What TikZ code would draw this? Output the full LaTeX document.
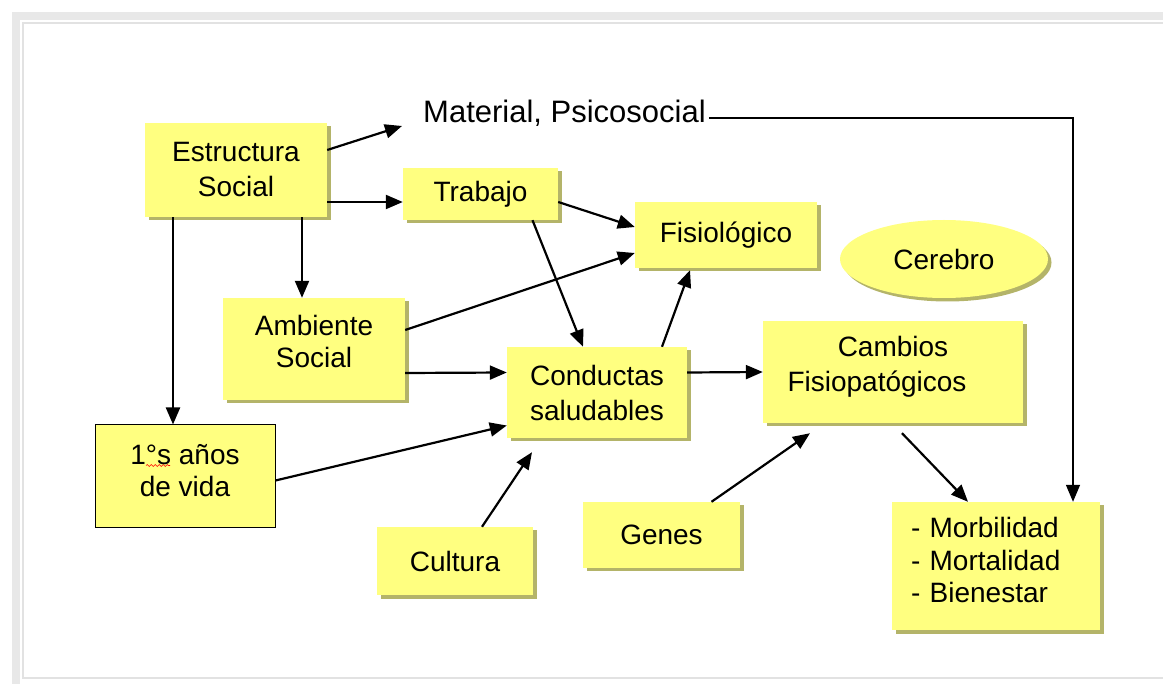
\documentclass[tikz,border=0pt]{standalone}
\usepackage{fontspec}
\setmainfont{Liberation Sans}
\usetikzlibrary{arrows.meta,shadows,calc,shapes.geometric,decorations.pathmorphing}
\definecolor{boxfill}{RGB}{255,255,128}
\definecolor{shadowc}{RGB}{180,180,105}
\definecolor{frameg}{RGB}{232,232,232}
\definecolor{framel}{RGB}{226,226,226}
\begin{document}
\begin{tikzpicture}[x=1pt,y=-1pt,
  yshadow/.style={drop shadow={shadow xshift=3.5pt, shadow yshift=-3.5pt, fill=shadowc, opacity=1}},
  ybox/.style={rectangle, fill=boxfill, inner sep=0pt, align=center,
    font=\fontsize{28}{35}\selectfont, yshadow},
  arr/.style={line width=2.2pt, -{Triangle[length=17pt,width=14pt]}},
  thinarr/.style={line width=1.4pt, -{Triangle[length=17pt,width=14pt]}}]
\useasboundingbox (0,0) rectangle (1163,684);
\fill[white] (0,0) rectangle (1163,684);
% frame
\fill[frameg] (12,12) rectangle (1163,20);
\fill[frameg] (12,12) rectangle (20,684);
\draw[framel, line width=1.5pt] (1163,23) -- (23,23) -- (23,678) -- (1163,678);

% nodes
\node[ybox, minimum width=182pt, minimum height=94pt] (est) at (236,170) {Estructura\\Social};
\node[anchor=base west, inner sep=0pt, font=\fontsize{31}{36}\selectfont] (mat) at (423,123) {Material, Psicosocial};
\node[ybox, minimum width=155pt, minimum height=52pt] (trab) at (480.5,194) {Trabajo};
\node[ybox, minimum width=182pt, minimum height=66pt] (fis) at (726,235) {Fisiológico};
\node[ellipse, fill=boxfill, yshadow, inner sep=0pt, minimum width=208pt, minimum height=78pt,
  font=\fontsize{28}{35}\selectfont] (cer) at (944,259) {Cerebro};
\node[ybox, font=\fontsize{28}{32}\selectfont, minimum width=182pt, minimum height=102pt] (amb) at (314,349) {Ambiente\\Social\rule[-16pt]{0pt}{0pt}};
\node[rectangle, fill=boxfill, draw=black, line width=1pt, inner sep=0pt, align=center,
  font=\fontsize{28}{32}\selectfont, minimum width=180pt, minimum height=103pt] (anos) at (185,476.5) {1°s años\\de vida\rule[-13pt]{0pt}{0pt}};
\node[ybox, minimum width=180pt, minimum height=91pt] (cond) at (597,392.5) {Conductas\\saludables};
\node[ybox, minimum width=260pt, minimum height=102pt] (camb) at (893,372) {Cambios\\Fisiopatógicos\hspace*{32pt}\null\rule[-16pt]{0pt}{0pt}};
\node[ybox, minimum width=156pt, minimum height=68pt] (cult) at (455,561) {Cultura};
\node[ybox, minimum width=157pt, minimum height=66pt] (genes) at (661.5,535) {Genes};
\node[ybox, font=\fontsize{28}{32.5}\selectfont, minimum width=208pt, minimum height=128pt,
  text width=170pt, align=left] (morb) at (996,566) {- Morbilidad\\- Mortalidad\\- Bienestar\rule[-12pt]{0pt}{0pt}};

% spell-check underline
\draw[red, line width=0.6pt, decorate, decoration={snake, amplitude=0.9pt, segment length=4pt}]
  ($(anos.center)+(-39,-11)$) -- ($(anos.center)+(-15,-11)$);

% connectors
\draw[arr] ($(est.east)+(0,-20)$) -- ($(mat.base west)+(-21,3)$);
\draw[arr] ($(est.east)+(0,32)$) -- ($(trab.west)+(0,8)$);
\draw[arr] ($(est.south)+(-63,0)$) coordinate (e1) -- (e1 |- anos.north);
\draw[arr] ($(est.south)+(66,0)$) coordinate (e2) -- (e2 |- amb.north);
\draw[arr] ($(trab.east)+(0,8)$) -- ($(fis.west)+(0,-8)$);
\draw[arr] ($(trab.south)+(52,0)$) -- ($(cond.north)+(-14,0)$);
\draw[arr] ($(amb.east)+(0,-19)$) -- ($(fis.west)+(0,18)$);
\draw[arr] ($(amb.east)+(0,24)$) -- ($(cond.west)+(0,-20)$);
\draw[arr] ($(anos.east)+(0,4)$) -- ($(cond.west)+(0,33)$);
\draw[arr] ($(cult.north)+(27,0)$) -- ($(cond.south)+(-65,14)$);
\draw[arr] ($(cond.north)+(65,0)$) -- ($(fis.south)+(-36,2)$);
\draw[arr] ($(cond.east)+(0,-20)$) -- (camb.west);
\draw[arr] ($(genes.north)+(50,0)$) -- ($(camb.south)+(-83,10)$);
\draw[arr] ($(camb.south)+(9,10)$) -- ($(morb.north)+(-28,0)$);
\draw[thinarr] ($(mat.base east)+(3,-5)$) -| ($(morb.north)+(77,0)$);
\end{tikzpicture}
\end{document}
